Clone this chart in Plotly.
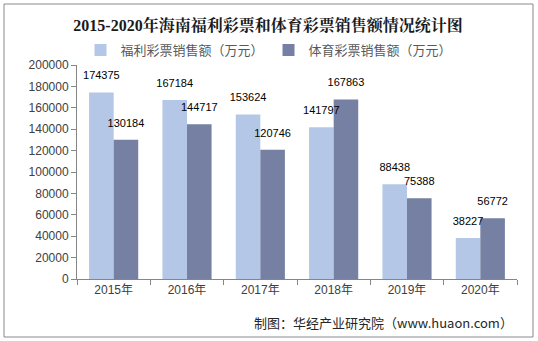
import plotly.graph_objects as go

years = ["2015年", "2016年", "2017年", "2018年", "2019年", "2020年"]
welfare = [174375, 167184, 153624, 141797, 88438, 38227]
sports = [130184, 144717, 120746, 167863, 75388, 56772]
y_ticks = [0, 20000, 40000, 60000, 80000, 100000, 120000, 140000, 160000, 180000, 200000]

W, H = 538, 341
L, R, T, B = 77, 21, 65, 62
pw, ph = W - L - R, H - T - B
GAP = 0.33

def px_x(x):
    return (x - L) / pw

def px_y(y):
    return (H - B - y) / ph

fig = go.Figure()
fig.add_trace(go.Bar(
    x=years, y=welfare, name="福利彩票销售额（万元）", offsetgroup="w",
    marker=dict(color="#B4C7E7", line=dict(width=0)),
))
fig.add_trace(go.Bar(
    x=years, y=sports, name="体育彩票销售额（万元）", offsetgroup="s",
    marker=dict(color="#7580A3", line=dict(width=0)),
))
# data labels drawn on top of all bars
for vals, grp in ((welfare, "w"), (sports, "s")):
    fig.add_trace(go.Scatter(
        x=years, y=vals, mode="markers+text", offsetgroup=grp,
        marker=dict(size=15, color="rgba(0,0,0,0)"),
        text=[str(v) for v in vals], textposition="top center",
        textfont=dict(size=11, color="#000000", family="Liberation Sans, Arial"),
        showlegend=False, hoverinfo="skip", cliponaxis=False,
    ))

fig.update_layout(
    width=W, height=H,
    margin=dict(l=L, r=R, t=T, b=B),
    paper_bgcolor="white", plot_bgcolor="white",
    barmode="group", bargap=GAP, bargroupgap=0,
    scattermode="group", scattergap=GAP,
    font=dict(family="Liberation Sans, Noto Sans CJK SC", size=12, color="#404040"),
    title=dict(
        text="<b>2015-2020年海南福利彩票和体育彩票销售额情况统计图</b>",
        x=px_x(268), xref="paper", xanchor="center",
        y=1 - 25 / H, yref="container", yanchor="middle",
        font=dict(size=16, color="#1a1a1a", family="Liberation Serif, Noto Serif CJK SC, Noto Sans CJK SC"),
    ),
    legend=dict(
        orientation="h", x=px_x(269), xanchor="center",
        y=px_y(50), yanchor="middle",
        font=dict(size=13, color="#595959", family="Noto Sans CJK SC"),
        itemwidth=30, traceorder="normal",
        bgcolor="rgba(0,0,0,0)",
    ),
    showlegend=True,
)

fig.update_xaxes(
    showline=True, linecolor="#868686", linewidth=1,
    ticks="outside", tickson="boundaries", ticklen=5, tickcolor="#868686",
    tickfont=dict(size=12, color="#404040", family="Liberation Sans, Noto Sans CJK SC"),
    showgrid=False,
)
fig.update_yaxes(
    range=[0, 200000], tickvals=y_ticks, ticktext=[str(v) for v in y_ticks],
    showline=True, linecolor="#868686", linewidth=1,
    ticks="outside", ticklen=5, tickcolor="#868686",
    tickfont=dict(size=12, color="#404040", family="Liberation Sans, Arial"),
    showgrid=False, zeroline=False,
)

# outer border
fig.add_shape(type="rect", xref="paper", yref="paper",
              x0=px_x(4), x1=px_x(533), y0=px_y(337), y1=px_y(4),
              line=dict(color="#8a8a8a", width=1), fillcolor="rgba(0,0,0,0)", layer="below")

# source
fig.add_annotation(text="制图：华经产业研究院（www.huaon.com）", xref="paper", yref="paper",
                   x=px_x(515), y=px_y(322), xanchor="right", yanchor="middle", showarrow=False,
                   font=dict(size=13, color="#262626", family="Noto Sans CJK SC"))

fig.write_html("out.html")
